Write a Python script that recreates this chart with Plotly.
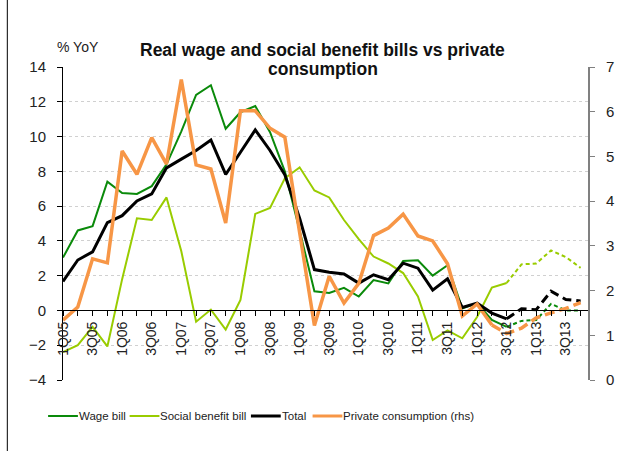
import plotly.graph_objects as go

quarters = [f"{q}Q{y:02d}" for y in range(5, 14) for q in range(1, 5)]
tick_text = [q if i % 2 == 0 else "" for i, q in enumerate(quarters)]

wage_bill = [3.04, 4.6, 4.85, 7.4, 6.75, 6.7, 7.15, 8.4, 10.3, 12.4, 12.95, 10.45,
             11.4, 11.75, 10.25, 8.0, 4.6, 1.1, 1.0, 1.3, 0.8, 1.75, 1.55, 2.85,
             2.88, 2.0, 2.6, 0.12, 0.42, -0.55, -0.95, -0.6, -0.55, 0.38, 0.0, 0.0]
social_bill = [-2.4, -2.0, -0.95, -2.07, 1.8, 5.3, 5.2, 6.5, 3.4, -0.65, 0.05, -1.1,
               0.6, 5.55, 5.9, 7.6, 8.23, 6.9, 6.5, 5.2, 4.1, 3.1, 2.7, 2.15,
               0.8, -1.7, -1.15, -1.6, -0.38, 1.32, 1.58, 2.65, 2.7, 3.45, 3.07, 2.45]
total = [1.67, 2.9, 3.37, 5.05, 5.45, 6.3, 6.7, 8.2, 8.7, 9.2, 9.8, 7.82,
         9.1, 10.38, 9.2, 7.8, 5.3, 2.35, 2.2, 2.1, 1.57, 2.05, 1.77, 2.72,
         2.43, 1.17, 1.82, 0.17, 0.42, -0.15, -0.48, 0.1, 0.04, 1.11, 0.63, 0.54]
private_cons = [1.34, 1.63, 2.71, 2.62, 5.12, 4.6, 5.42, 4.83, 6.72, 4.81, 4.72, 3.51,
                6.02, 6.02, 5.63, 5.43, 3.3, 1.22, 2.32, 1.72, 2.16, 3.23, 3.4, 3.71,
                3.22, 3.11, 2.6, 1.43, 1.7, 1.23, 1.04, 1.16, 1.39, 1.5, 1.6, 1.73]

x = list(range(len(quarters)))
FONT = "Liberation Sans, Arial, sans-serif"

series = [
    ("Wage bill", wage_bill, "#0a8a0a", 2, "4px,3px", 30, "y"),
    ("Social benefit bill", social_bill, "#99cc00", 2, "4px,3px", 30, "y"),
    ("Total", total, "#000000", 3, "9px,5px", 30, "y"),
    ("Private consumption (rhs)", private_cons, "#f79646", 3.5, "10px,5px", 29, "y2"),
]

fig = go.Figure()
for name, vals, color, w, dash, split, yax in series:
    fig.add_trace(go.Scatter(x=x[:split + 1], y=vals[:split + 1], mode="lines", name=name,
                             line=dict(color=color, width=w), yaxis=yax))
for name, vals, color, w, dash, split, yax in series:
    fig.add_trace(go.Scatter(x=x[split:], y=vals[split:], mode="lines", name=name,
                             line=dict(color=color, width=w, dash=dash), yaxis=yax,
                             showlegend=False))

PW, PH, L, B = 528, 313, 63, 380   # plot area size and origin in pixels


def px(xp):
    return (xp - L) / PW


def py(yp):
    return (B - yp) / PH


fig.update_layout(
    width=626, height=451,
    margin=dict(l=63, r=35, t=67, b=71),
    paper_bgcolor="white", plot_bgcolor="white",
    font=dict(family=FONT, size=14, color="#222"),
    showlegend=False,
    xaxis=dict(range=[0, 35.5], tickvals=x, ticktext=tick_text, tickangle=-90,
               anchor="free", position=py(310), showline=True, linecolor="black",
               linewidth=1, ticks="outside", ticklen=5, tickcolor="black",
               showgrid=False, zeroline=False, tickfont=dict(size=14)),
    yaxis=dict(range=[-4, 14], dtick=2, showline=True, linecolor="black", linewidth=1,
               ticks="outside", ticklen=5, tickcolor="black", showgrid=True,
               gridcolor="#d0d0d0", griddash="dot", gridwidth=1, zeroline=False,
               ticklabelstandoff=8, tickfont=dict(size=15)),
    yaxis2=dict(range=[0, 7], dtick=1, overlaying="y", side="right", anchor="x",
                showline=True, linecolor="#808080", linewidth=2, ticks="outside",
                ticklen=5, tickcolor="#808080", showgrid=False, zeroline=False,
                ticklabelstandoff=8, tickfont=dict(size=15)),
)

# Legend drawn as a row of samples and labels (mirrors the reference layout)
legend_items = [("Wage bill", "#0a8a0a", 2, 48), ("Social benefit bill", "#99cc00", 2, 130),
                ("Total", "#000000", 3, 252), ("Private consumption (rhs)", "#f79646", 3, 314)]
LY = 416
for label, color, w, x0 in legend_items:
    fig.add_shape(type="line", xref="paper", yref="paper", x0=px(x0), x1=px(x0 + 30),
                  y0=py(LY), y1=py(LY), line=dict(color=color, width=w))
    fig.add_annotation(text=label, xref="paper", yref="paper", x=px(x0 + 31), xanchor="left",
                       y=py(LY), yanchor="middle", showarrow=False,
                       font=dict(size=11.5, color="#222"), xshift=-2)

TITLE_FONT = dict(family="Liberation Sans, Arial, sans-serif", size=17.5, color="#111")
fig.add_annotation(text="<b>Real wage and social benefit bills vs private</b>",
                   xref="paper", yref="paper", x=px(324), xanchor="center",
                   y=py(50), yanchor="middle", showarrow=False, font=TITLE_FONT)
fig.add_annotation(text="<b>consumption</b>",
                   xref="paper", yref="paper", x=px(324), xanchor="center",
                   y=py(69), yanchor="middle", showarrow=False, font=TITLE_FONT)
fig.add_annotation(text="% YoY", xref="paper", yref="paper", x=px(55), xanchor="left",
                   y=py(47), yanchor="middle", showarrow=False, font=dict(size=14))
fig.add_shape(type="line", xref="paper", yref="paper", x0=px(7), x1=px(7),
              y0=py(460), y1=py(-10), line=dict(color="black", width=1))

fig.write_html("out.html", post_script="document.body.style.margin='0';",
               config={"displayModeBar": False})
